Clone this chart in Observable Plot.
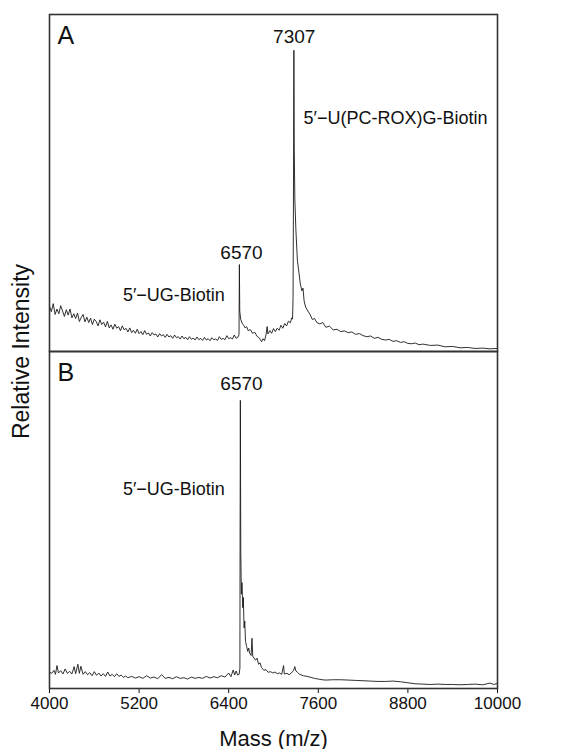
<!DOCTYPE html>
<html>
<head>
<meta charset="utf-8">
<script src="https://cdn.jsdelivr.net/npm/d3@7"></script>
<script src="https://cdn.jsdelivr.net/npm/@observablehq/plot@0.6"></script>
<style>
  html, body { margin: 0; padding: 0; background: #fff; }
  #chart { width: 567px; height: 749px; }
</style>
</head>
<body>
<div id="chart"></div>
<script>
// ---- data ----
const panels = ["A", "B"];

const massA = [4000,4025,4050,4075,4100,4125,4150,4175,4200,4225,4250,4275,4300,4325,4350,4375,4400,4425,4450,4475,
  4500,4525,4550,4575,4600,4625,4650,4675,4700,4725,4750,4775,4800,4825,4850,4875,4900,4925,4950,4975,
  5000,5025,5050,5075,5100,5125,5150,5175,5200,5225,5250,5275,5300,5325,5350,5375,5400,5425,5450,5475,
  5500,5525,5550,5575,5600,5625,5650,5675,5700,5725,5750,5775,5800,5825,5850,5875,5900,5925,5950,5975,
  6000,6025,6050,6075,6100,6125,6150,6175,6200,6225,6250,6275,6300,6325,6350,6375,6400,6425,6450,6475,
  6500,6525,6538,6543,6548,6560,6580,6600,6620,6640,6660,6690,6720,6750,6780,6810,6840,6860,6880,6900,
  6915,6925,6950,6975,7000,7025,7050,7075,7100,7125,7150,7175,7200,7225,7245,7255,7262,7268,
  7273,7278,7286,7300,7320,7340,7360,7380,7395,7410,7430,7460,7490,7520,7550,7580,7620,7660,7700,7750,
  7800,7850,7900,7950,8000,8050,8100,8150,8200,8250,8300,8350,8400,8450,8500,8550,8600,8650,8700,8750,
  8800,8850,8900,8950,9000,9100,9200,9300,9400,9500,9600,9700,9800,9900,10000];
const intensityA = [13.5,11.8,14.2,11.0,12.6,11.2,13.6,12.0,10.4,12.4,10.8,12.6,10.0,11.2,9.8,11.4,8.9,10.1,11.0,8.8,
  10.2,8.6,9.9,8.0,9.6,8.9,7.6,9.4,8.0,8.7,7.3,8.9,7.0,7.9,6.6,8.1,6.9,7.4,6.2,7.6,
  6.4,6.9,5.8,7.0,5.6,6.3,5.4,6.6,5.3,5.9,5.0,6.2,5.1,5.5,4.6,5.6,4.9,5.2,4.3,5.3,
  4.6,5.0,4.2,5.1,4.3,4.7,3.9,4.9,4.1,4.4,3.7,4.6,3.8,4.2,3.5,4.4,3.6,4.0,3.4,4.3,
  3.5,3.9,3.3,4.2,3.4,3.8,3.2,4.1,3.5,3.7,3.3,4.4,3.6,3.9,3.5,4.7,3.8,4.1,3.7,4.9,
  3.9,4.3,5.0,25.8,12.0,9.6,8.4,7.8,7.0,7.4,6.2,6.5,5.4,5.7,4.5,4.0,2.9,3.8,3.2,5.0,
  7.4,5.2,6.2,5.4,6.8,5.9,6.9,6.3,7.8,6.9,8.3,7.6,9.0,8.5,10.0,9.6,16.0,50.0,
  89.4,60.0,45.0,36.0,27.0,23.5,20.0,18.0,18.8,15.0,13.2,12.0,11.0,9.5,9.8,8.6,8.2,8.6,7.2,7.5,
  6.4,6.6,5.9,6.1,5.6,5.8,5.1,5.3,4.7,4.4,4.6,3.9,4.2,3.6,3.4,3.6,3.0,3.2,2.7,2.9,
  2.4,2.3,2.5,2.0,2.2,1.8,1.9,1.4,1.5,1.1,1.2,0.9,1.0,0.8,0.9];

const massB = [4000,4030,4060,4080,4100,4120,4150,4180,4210,4240,4270,4300,4330,4350,4380,4400,4420,4450,4480,4510,
  4540,4570,4600,4630,4660,4690,4720,4750,4780,4810,4840,4870,4900,4930,4960,4990,5020,5050,5100,5150,
  5200,5250,5300,5350,5400,5450,5500,5550,5600,5650,5700,5750,5800,5850,5900,5950,6000,6050,6100,6150,
  6200,6250,6300,6350,6400,6430,6460,6480,6500,6520,6540,6550,6553,6556,6562,6570,6578,6588,6596,6606,
  6615,6625,6640,6655,6668,6680,6700,6712,6722,6740,6760,6780,6800,6820,6840,6870,6900,6930,6960,6990,
  7020,7050,7080,7110,7135,7145,7180,7210,7240,7270,7285,7300,7320,7350,7400,7450,7500,7550,7600,7650,
  7700,7800,7900,8000,8100,8200,8300,8400,8500,8600,8700,8800,8900,9000,9100,9200,9300,9400,9500,9600,
  9700,9800,9900,9950,10000];
const intensityB = [4.8,4.5,5.4,4.2,6.8,4.6,5.3,4.3,5.8,4.5,5.1,4.3,6.5,4.4,7.2,4.5,6.6,4.2,5.0,4.1,
  4.7,3.8,5.0,3.9,4.6,3.7,4.4,3.6,4.9,3.7,4.2,3.5,4.4,3.6,4.0,3.3,3.7,3.2,3.6,3.1,
  3.5,3.0,3.8,3.1,3.4,2.9,4.1,3.0,3.3,2.9,3.5,3.0,3.2,2.8,3.4,3.0,3.3,3.0,3.6,3.1,
  3.5,3.2,3.8,3.4,4.6,3.5,5.5,4.0,5.2,4.0,4.2,6.0,50.0,85.5,40.0,28.0,31.4,24.0,27.0,18.0,
  20.0,14.0,12.5,11.0,12.0,10.5,9.8,14.9,9.6,9.0,8.4,9.0,7.2,7.6,6.2,5.4,5.6,4.8,5.0,4.6,
  4.9,4.4,4.6,4.2,6.8,4.3,4.5,4.1,4.6,5.4,6.5,5.2,4.8,4.2,3.8,3.6,3.3,3.0,2.8,2.6,
  2.5,2.6,2.6,2.5,2.4,2.3,2.2,2.1,2.1,2.2,2.0,1.7,1.4,1.3,1.2,1.3,1.2,1.2,1.1,1.2,
  1.3,1.1,1.6,1.2,1.5];

const xTicks = [4000, 5200, 6400, 7600, 8800, 10000];

// peak mass labels
const peakPanel = ["A", "A", "B"];
const peakMass = [7278, 6571, 6571];
const peakLevel = [91.4, 27.4, 88.6];
const peakText = ["7307", "6570", "6570"];

// compound labels centred over their position
const compoundPanel = ["A", "B"];
const compoundMass = [5666, 5666];
const compoundLevel = [15.0, 57.4];
const compoundText = ["5\u2032\u2212UG-Biotin", "5\u2032\u2212UG-Biotin"];

// compound label starting at its position
const roxPanel = ["A"];
const roxMass = [7402];
const roxLevel = [67.4];
const roxText = ["5\u2032\u2212U(PC-ROX)G-Biotin"];

// ---- build tables ----
const spectrum = [
  ...massA.map((m, i) => ({panel: "A", mass: m, intensity: intensityA[i]})),
  ...massB.map((m, i) => ({panel: "B", mass: m, intensity: intensityB[i]}))
];
const peaks = peakText.map((t, i) => ({panel: peakPanel[i], mass: peakMass[i], level: peakLevel[i], text: t}));
const compounds = compoundText.map((t, i) => ({panel: compoundPanel[i], mass: compoundMass[i], level: compoundLevel[i], text: t}));
const rox = roxText.map((t, i) => ({panel: roxPanel[i], mass: roxMass[i], level: roxLevel[i], text: t}));

const svg = Plot.plot({
  width: 567,
  height: 749,
  marginLeft: 49,
  marginRight: 70,
  marginTop: 13,
  marginBottom: 61,
  style: {fontFamily: "'Liberation Sans', Arial, Helvetica, sans-serif", fontSize: "17px", color: "#111", background: "#fff"},
  x: {domain: [4000, 10000], ticks: xTicks, tickFormat: d3.format("d"), tickSize: 5, tickPadding: 3,
      label: "Mass (m/z)", labelArrow: false, labelAnchor: "center", labelOffset: 57},
  y: {domain: [0, 100], axis: null},
  fy: {domain: panels, padding: 0, axis: "left", label: "Relative Intensity", labelArrow: false, labelAnchor: "center",
       labelOffset: 37, tickSize: 0, tickFormat: () => ""},
  marks: [
    Plot.line(spectrum, {x: "mass", y: "intensity", fy: "panel", stroke: "#1a1a1a", strokeWidth: 0.9}),
    Plot.frame({stroke: "#333", strokeWidth: 1.6}),
    Plot.text(panels, {fy: d => d, text: d => d, frameAnchor: "top-left", dx: 8, dy: 12,
      lineAnchor: "top", textAnchor: "start", fontSize: 25, fill: "#111"}),
    Plot.text(peaks, {x: "mass", y: "level", fy: "panel", text: "text", lineAnchor: "bottom",
      textAnchor: "middle", fontSize: 19, fill: "#111"}),
    Plot.text(compounds, {x: "mass", y: "level", fy: "panel", text: "text", lineAnchor: "bottom",
      textAnchor: "middle", fontSize: 18, fill: "#111"}),
    Plot.text(rox, {x: "mass", y: "level", fy: "panel", text: "text", lineAnchor: "bottom",
      textAnchor: "start", fontSize: 18, fill: "#111"})
  ]
});

const axisLabels = d3.select(svg)
  .selectAll('g[aria-label="x-axis label"], g[aria-label="fy-axis label"]');
axisLabels.attr("font-size", 22);
axisLabels.selectAll("text")
  .attr("font-size", function() {
    return this.parentNode.getAttribute("aria-label") === "fy-axis label" ? 23 : 22;
  })
  .text(function() { return this.textContent.replace(/\s*[\u2190-\u2193]\s*/g, ""); });

document.getElementById("chart").appendChild(svg);
</script>
</body>
</html>
